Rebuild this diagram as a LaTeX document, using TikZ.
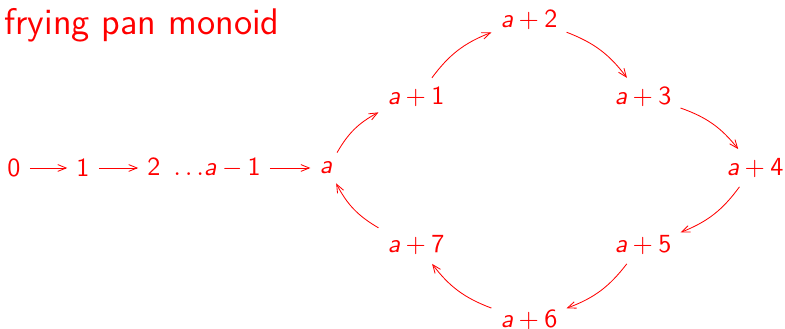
\documentclass[tikz,border=0pt]{standalone}
\usepackage{tikz}
\usetikzlibrary{arrows.meta, positioning}
\definecolor{panred}{HTML}{FF0000}
\newcommand\va{\textit{a}}
\newcommand\ap[1]{\va\kern2pt$+$\kern2pt#1}

\begin{document}
\begin{tikzpicture}[x=0.383pt, y=-0.383pt, font=\sffamily, every node/.style={text=panred},
  step arrow/.style={-{Straight Barb[length=3.2pt, width=2.6pt]}, draw=panred, line width=0.32pt},
  loop arrow/.style={step arrow, bend left=16}]
  \useasboundingbox (0,0) rectangle (785,329);
  % --- title ---
  \node[anchor=base west, inner sep=0, font=\sffamily\fontsize{14.2}{16}\selectfont] (title) at (4,35) {frying pan monoid};
  % --- handle ---
  \node (n0) at (14,168) {0};
  \node (n1) at (83,168) {1};
  \node (n2) at (204,168) {2\kern5pt$\ldots$\va\kern2pt$-$\kern2pt1};
  \node (na) at (326,168) {\va};
  % --- pan ---
  \node (na1) at (416,97) {\ap{1}};
  \node (na2) at (529,20) {\ap{2}};
  \node (na3) at (643,97) {\ap{3}};
  \node (na4) at (755,168) {\ap{4}};
  \node (na5) at (643,245) {\ap{5}};
  \node (na6) at (529,320) {\ap{6}};
  \node (na7) at (416,245) {\ap{7}};
  \draw[step arrow] (n0) -- (n1);
  \draw[step arrow] (n1) -- (n2);
  \draw[step arrow] (n2) -- (na);
  \draw[loop arrow] (na) to (na1);
  \draw[loop arrow] (na1) to (na2);
  \draw[loop arrow] (na2) to (na3);
  \draw[loop arrow] (na3) to (na4);
  \draw[loop arrow] (na4) to (na5);
  \draw[loop arrow] (na5) to (na6);
  \draw[loop arrow] (na6) to (na7);
  \draw[loop arrow] (na7) to (na);
\end{tikzpicture}
\end{document}
